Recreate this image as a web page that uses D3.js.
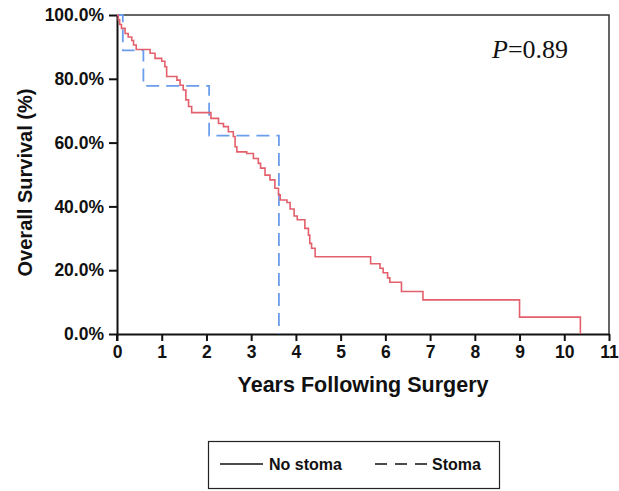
<!DOCTYPE html>
<html>
<head>
<meta charset="utf-8">
<script src="https://cdn.jsdelivr.net/npm/d3@7"></script>
<style>
  body { margin: 0; background: #fff; }
  svg { display: block; font-family: "Liberation Sans", Arial, sans-serif; }
</style>
</head>
<body>
<svg id="chart" width="619" height="491"></svg>
<script>
// Kaplan-Meier steps: time (years) where survival drops, new survival (%)
const noStomaTimes = [0.03, 0.06, 0.10, 0.18, 0.25, 0.33, 0.37, 0.43, 0.74, 0.85, 1.00, 1.07, 1.11, 1.34, 1.41, 1.48, 1.54, 1.60, 1.67,
  2.10, 2.27, 2.38, 2.49, 2.60, 2.64, 2.68, 2.90, 3.05, 3.16, 3.21, 3.31, 3.42, 3.53, 3.61, 3.65, 3.80, 3.87, 3.96, 4.03,
  4.20, 4.28, 4.31, 4.35, 4.43, 5.67, 5.88, 5.95, 6.05, 6.10, 6.36, 6.84, 9.00, 10.36];
const noStomaSurv = [98.5, 97.0, 95.8, 94.2, 93.1, 92.0, 90.6, 89.2, 88.0, 86.4, 85.5, 83.8, 80.7, 79.6, 78.0, 76.5, 73.4, 71.3, 69.4,
  67.6, 66.0, 65.0, 63.4, 61.9, 58.7, 57.1, 56.6, 55.0, 53.5, 52.0, 49.8, 48.3, 45.7, 43.6, 42.0, 41.2, 39.2, 37.0, 35.8,
  33.1, 31.0, 28.4, 26.9, 24.2, 22.0, 20.6, 19.2, 17.6, 16.2, 13.3, 10.7, 5.3, 0];
const stomaTimes = [0.13, 0.59, 2.06, 3.62];
const stomaSurv = [88.9, 77.8, 62.2, 0];
const xTicks = [0, 1, 2, 3, 4, 5, 6, 7, 8, 9, 10, 11];
const yTicks = [0, 20, 40, 60, 80, 100];
const legendLabels = ["No stoma", "Stoma"];

const margin = {top: 15, left: 117};
const w = 492, h = 319;

const svg = d3.select("#chart");
const g = svg.append("g").attr("transform", `translate(${margin.left},${margin.top})`);

const x = d3.scaleLinear().domain([0, 11]).range([0, w]);
const y = d3.scaleLinear().domain([0, 100]).range([h, 0]);

// frame top/right
g.append("path")
  .attr("d", `M0,0H${w}V${h}`)
  .attr("fill", "none").attr("stroke", "#333").attr("stroke-width", 1.5);

const xAxis = g.append("g").attr("transform", `translate(0,${h})`)
  .call(d3.axisBottom(x).tickValues(xTicks).tickSize(7).tickSizeOuter(0).tickPadding(5));
const yAxis = g.append("g")
  .call(d3.axisLeft(y).tickValues(yTicks).tickSize(8).tickSizeOuter(0).tickPadding(5)
    .tickFormat(d => d.toFixed(1) + "%"));

[xAxis, yAxis].forEach(a => {
  a.select(".domain").attr("stroke", "#111").attr("stroke-width", 2);
  a.selectAll(".tick line").attr("stroke", "#111").attr("stroke-width", 2);
  a.selectAll(".tick text").attr("fill", "#111").style("font-size", "17.5px").style("font-weight", "bold")
    .style("font-family", "'Liberation Sans', Arial, sans-serif");
});
// extend y axis down a little, like the original cross at origin
g.append("line").attr("x1", 0).attr("x2", 0).attr("y1", h).attr("y2", h + 7)
  .attr("stroke", "#111").attr("stroke-width", 2);

const line = d3.line().curve(d3.curveStepAfter).x(d => x(d[0])).y(d => y(d[1]));

const redPts = [[0, 100]].concat(noStomaTimes.map((t, i) => [t, noStomaSurv[i]]));
const bluePts = [[0, 100]].concat(stomaTimes.map((t, i) => [t, stomaSurv[i]]));

g.append("path").datum(bluePts).attr("d", line)
  .attr("fill", "none").attr("stroke", "#6b9ded").attr("stroke-width", 1.8)
  .attr("stroke-dasharray", "13,7");
g.append("path").datum(redPts).attr("d", line)
  .attr("fill", "none").attr("stroke", "#e35f6b").attr("stroke-width", 1.6);

// P value
const pt = g.append("text").attr("x", 375).attr("y", 43)
  .style("font-family", "'Liberation Serif', 'Times New Roman', serif").style("font-size", "26px").attr("fill", "#111");
pt.append("tspan").style("font-style", "italic").text("P");
pt.append("tspan").text("=0.89");

// axis titles
svg.append("text").attr("x", margin.left + w / 2).attr("y", 392).attr("text-anchor", "middle")
  .style("font-size", "21.5px").style("font-weight", "bold").attr("fill", "#111")
  .text("Years Following Surgery");
svg.append("text").attr("transform", `translate(32,${margin.top + h / 2 + 8}) rotate(-90)`)
  .attr("text-anchor", "middle")
  .style("font-size", "20px").style("font-weight", "bold").attr("fill", "#111")
  .text("Overall Survival (%)");

// legend
const lg = svg.append("g");
lg.append("rect").attr("x", 208.5).attr("y", 441.5).attr("width", 291).attr("height", 47)
  .attr("fill", "none").attr("stroke", "#222").attr("stroke-width", 1.2);
lg.append("line").attr("x1", 220).attr("x2", 263).attr("y1", 464).attr("y2", 464)
  .attr("stroke", "#111").attr("stroke-width", 1.5);
lg.append("text").attr("x", 269).attr("y", 469.5).style("font-size", "16px").style("font-weight", "bold")
  .attr("fill", "#111").text(legendLabels[0]);
lg.append("line").attr("x1", 375).attr("x2", 428).attr("y1", 464).attr("y2", 464)
  .attr("stroke", "#111").attr("stroke-width", 1.5).attr("stroke-dasharray", "12,8");
lg.append("text").attr("x", 432).attr("y", 469.5).style("font-size", "16px").style("font-weight", "bold")
  .attr("fill", "#111").text(legendLabels[1]);
</script>
</body>
</html>
